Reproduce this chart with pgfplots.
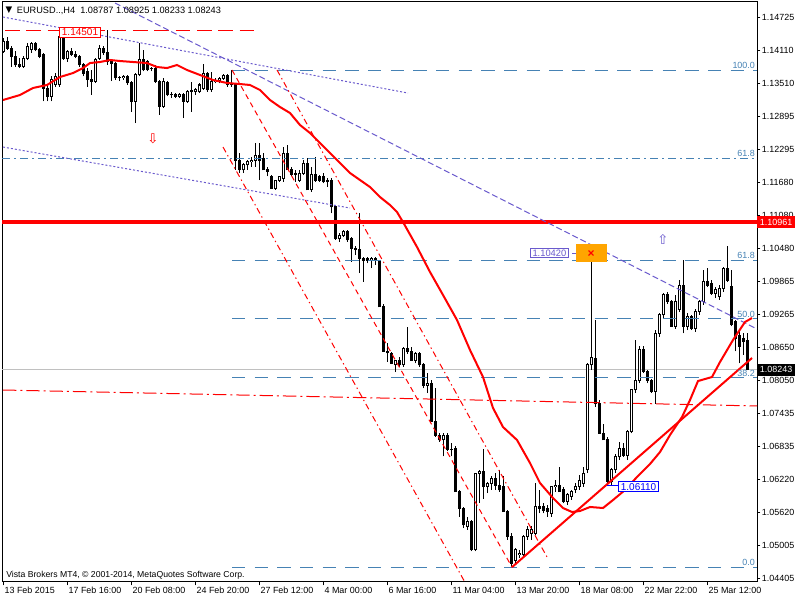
\documentclass[border=0pt]{standalone}
\usepackage{fontspec}
\setmainfont{Liberation Sans}
\newfontfamily\dejavu{DejaVu Sans}
\usepackage{pgfplots}
\usepackage{pgfplotstable}
\pgfplotsset{compat=1.18}
\definecolor{fibo}{HTML}{4682B4}
\definecolor{slate}{HTML}{6A5ACD}
\definecolor{silv}{HTML}{C0C0C0}
\definecolor{orng}{HTML}{FFA500}
\definecolor{lblue}{HTML}{0000FF}
\definecolor{mtred}{HTML}{FF0000}
\tikzset{fibtxt/.style={anchor=south east, text=fibo, inner sep=0.8pt, font=\fontsize{6.7}{8}\selectfont}}

% EURUSD H4 candles: bar index, open, high, low, close
\pgfplotstableread{
i o h l c
0 1.1410 1.1434 1.1407 1.1428
1 1.1428 1.1437 1.1413 1.1416
2 1.1416 1.1419 1.1382 1.1401
3 1.1401 1.1410 1.1382 1.1385
4 1.1385 1.1397 1.1379 1.1382
5 1.1382 1.1401 1.1380 1.1397
6 1.1397 1.1425 1.1394 1.1419
7 1.1413 1.1428 1.1407 1.1425
8 1.1425 1.1428 1.1410 1.1413
9 1.1413 1.1416 1.1397 1.1401
10 1.1404 1.1407 1.1318 1.1342
11 1.1342 1.1348 1.1318 1.1327
12 1.1327 1.1364 1.1318 1.1358
13 1.1348 1.1370 1.1345 1.1364
14 1.1348 1.1450 1.1345 1.1437
15 1.1440 1.1450 1.1394 1.1397
16 1.1397 1.1413 1.1391 1.1410
17 1.1410 1.1416 1.1401 1.1404
18 1.1404 1.1410 1.1397 1.1401
19 1.1401 1.1404 1.1382 1.1385
20 1.1385 1.1388 1.1364 1.1370
21 1.1373 1.1379 1.1345 1.1358
22 1.1358 1.1376 1.1330 1.1355
23 1.1355 1.1397 1.1352 1.1394
24 1.1397 1.1422 1.1394 1.1416
25 1.1416 1.1419 1.1404 1.1407
26 1.1407 1.1450 1.1385 1.1391
27 1.1391 1.1394 1.1355 1.1388
28 1.1388 1.1391 1.1358 1.1361
29 1.1361 1.1364 1.1355 1.1362
30 1.1361 1.1367 1.1358 1.1364
31 1.1364 1.1367 1.1348 1.1352
32 1.1352 1.1355 1.1299 1.1318
33 1.1318 1.1370 1.1278 1.1367
34 1.1367 1.1425 1.1364 1.1394
35 1.1394 1.1413 1.1373 1.1376
36 1.1391 1.1394 1.1373 1.1376
37 1.1379 1.1382 1.1373 1.1379
38 1.1379 1.1385 1.1352 1.1355
39 1.1355 1.1358 1.1293 1.1309
40 1.1309 1.1361 1.1306 1.1355
41 1.1352 1.1355 1.1327 1.1330
42 1.1330 1.1336 1.1324 1.1331
43 1.1330 1.1333 1.1324 1.1327
44 1.1327 1.1333 1.1324 1.1330
45 1.1330 1.1333 1.1287 1.1318
46 1.1318 1.1339 1.1315 1.1336
47 1.1336 1.1354 1.1299 1.1337
48 1.1336 1.1342 1.1330 1.1339
49 1.1336 1.1351 1.1333 1.1348
50 1.1342 1.1387 1.1339 1.1369
51 1.1369 1.1372 1.1336 1.1339
52 1.1339 1.1372 1.1336 1.1354
53 1.1354 1.1360 1.1351 1.1357
54 1.1357 1.1363 1.1351 1.1360
55 1.1360 1.1369 1.1357 1.1366
56 1.1366 1.1369 1.1345 1.1348
57 1.1351 1.1376 1.1345 1.1348
58 1.1348 1.1351 1.1192 1.1210
59 1.1210 1.1222 1.1186 1.1192
60 1.1192 1.1204 1.1186 1.1201
61 1.1201 1.1210 1.1192 1.1207
62 1.1207 1.1216 1.1198 1.1210
63 1.1210 1.1241 1.1198 1.1219
64 1.1219 1.1241 1.1173 1.1210
65 1.1213 1.1222 1.1192 1.1192
66 1.1192 1.1198 1.1180 1.1189
67 1.1180 1.1183 1.1158 1.1158
68 1.1158 1.1173 1.1155 1.1173
69 1.1173 1.1180 1.1170 1.1180
70 1.1176 1.1234 1.1170 1.1222
71 1.1222 1.1237 1.1192 1.1192
72 1.1192 1.1198 1.1180 1.1183
73 1.1186 1.1192 1.1170 1.1183
74 1.1173 1.1192 1.1170 1.1186
75 1.1186 1.1210 1.1183 1.1204
76 1.1204 1.1213 1.1155 1.1155
77 1.1155 1.1198 1.1152 1.1183
78 1.1183 1.1216 1.1170 1.1173
79 1.1180 1.1183 1.1170 1.1173
80 1.1180 1.1186 1.1167 1.1170
81 1.1173 1.1176 1.1161 1.1170
82 1.1173 1.1176 1.1112 1.1124
83 1.1124 1.1127 1.1063 1.1066
84 1.1066 1.1075 1.1060 1.1072
85 1.1072 1.1081 1.1069 1.1078
86 1.1078 1.1081 1.1060 1.1063
87 1.1066 1.1069 1.1023 1.1048
88 1.1048 1.1051 1.1035 1.1045
89 1.1045 1.1112 1.1002 1.1029
90 1.1029 1.1032 1.0986 1.1026
91 1.1029 1.1032 1.1020 1.1026
92 1.1026 1.1032 1.1011 1.1029
93 1.1029 1.1032 1.1017 1.1026
94 1.1023 1.1026 1.0940 1.0940
95 1.0940 1.0946 1.0858 1.0858
96 1.0858 1.0873 1.0839 1.0855
97 1.0854 1.0857 1.0836 1.0836
98 1.0833 1.0842 1.0820 1.0842
99 1.0842 1.0848 1.0830 1.0833
100 1.0833 1.0866 1.0830 1.0863
101 1.0863 1.0903 1.0854 1.0857
102 1.0857 1.0866 1.0842 1.0842
103 1.0842 1.0857 1.0836 1.0854
104 1.0854 1.0857 1.0830 1.0833
105 1.0833 1.0836 1.0790 1.0796
106 1.0796 1.0818 1.0781 1.0799
107 1.0799 1.0805 1.0729 1.0729
108 1.0729 1.0790 1.0701 1.0704
109 1.0704 1.0707 1.0692 1.0695
110 1.0695 1.0707 1.0665 1.0704
111 1.0704 1.0707 1.0674 1.0677
112 1.0677 1.0689 1.0665 1.0678
113 1.0680 1.0683 1.0600 1.0600
114 1.0600 1.0603 1.0554 1.0569
115 1.0569 1.0572 1.0533 1.0539
116 1.0536 1.0554 1.0530 1.0545
117 1.0545 1.0548 1.0490 1.0493
118 1.0493 1.0634 1.0490 1.0634
119 1.0634 1.0640 1.0579 1.0637
120 1.0637 1.0679 1.0587 1.0609
121 1.0609 1.0618 1.0597 1.0615
122 1.0615 1.0628 1.0603 1.0624
123 1.0624 1.0634 1.0603 1.0612
124 1.0612 1.0640 1.0600 1.0603
125 1.0609 1.0628 1.0563 1.0563
126 1.0563 1.0566 1.0511 1.0517
127 1.0517 1.0523 1.0462 1.0468
128 1.0474 1.0496 1.0468 1.0493
129 1.0484 1.0493 1.0477 1.0487
130 1.0484 1.0520 1.0477 1.0517
131 1.0517 1.0536 1.0511 1.0530
132 1.0523 1.0536 1.0511 1.0530
133 1.0523 1.0615 1.0520 1.0572
134 1.0572 1.0603 1.0560 1.0569
135 1.0572 1.0579 1.0560 1.0566
136 1.0569 1.0575 1.0554 1.0563
137 1.0560 1.0609 1.0554 1.0609
138 1.0609 1.0621 1.0600 1.0612
139 1.0612 1.0646 1.0600 1.0600
140 1.0603 1.0609 1.0579 1.0582
141 1.0582 1.0597 1.0575 1.0594
142 1.0591 1.0603 1.0585 1.0600
143 1.0603 1.0615 1.0597 1.0609
144 1.0609 1.0631 1.0603 1.0621
145 1.0615 1.0646 1.0609 1.0634
146 1.0640 1.0836 1.0634 1.0833
147 1.0833 1.1042 1.0824 1.0846
148 1.0845 1.0916 1.0756 1.0762
149 1.0762 1.0768 1.0707 1.0707
150 1.0707 1.0725 1.0695 1.0695
151 1.0695 1.0701 1.0611 1.0618
152 1.0618 1.0643 1.0612 1.0640
153 1.0640 1.0670 1.0634 1.0664
154 1.0664 1.0692 1.0658 1.0680
155 1.0680 1.0689 1.0664 1.0667
156 1.0667 1.0713 1.0658 1.0710
157 1.0710 1.0787 1.0707 1.0787
158 1.0787 1.0879 1.0781 1.0805
159 1.0805 1.0867 1.0799 1.0862
160 1.0862 1.0867 1.0818 1.0821
161 1.0821 1.0824 1.0799 1.0805
162 1.0805 1.0808 1.0781 1.0784
163 1.0784 1.0897 1.0762 1.0891
164 1.0891 1.0928 1.0885 1.0925
165 1.0925 1.0965 1.0919 1.0962
166 1.0962 1.0968 1.0946 1.0950
167 1.0950 1.0953 1.0904 1.0904
168 1.0904 1.0962 1.0900 1.0950
169 1.0935 1.0989 1.0930 1.0980
170 1.0980 1.1026 1.0891 1.0904
171 1.0904 1.0928 1.0897 1.0922
172 1.0922 1.0925 1.0897 1.0900
173 1.0900 1.0935 1.0894 1.0931
174 1.0931 1.0953 1.0925 1.0950
175 1.0950 1.1008 1.0944 1.0986
176 1.0986 1.1011 1.0977 1.0980
177 1.0983 1.0989 1.0962 1.0965
178 1.0965 1.0977 1.0956 1.0971
179 1.0959 1.0980 1.0953 1.0974
180 1.0974 1.1014 1.0968 1.1011
181 1.1011 1.1051 1.0986 1.0989
182 1.0977 1.1008 1.0904 1.0907
183 1.0913 1.0916 1.0858 1.0882
184 1.0888 1.0900 1.0836 1.0867
185 1.0882 1.0891 1.0852 1.0876
186 1.08787 1.08925 1.08233 1.08243
}\candles

\begin{document}
\begin{tikzpicture}
\useasboundingbox (0,0) rectangle (600pt,450pt);
\begin{axis}[
  at={(1.5pt,13.5pt)}, anchor=south west,
  scale only axis, width=566.25pt, height=435pt,
  xmin=-0.25, xmax=188.5, ymin=1.04337, ymax=1.15007,
  clip mode=individual,
  axis line style={black, line width=0.75pt},
  xtick={0,16,...,176},
  xticklabels={13 Feb 2015, 17 Feb 16:00, 20 Feb 08:00, 24 Feb 20:00, 27 Feb 12:00, 4 Mar 00:00, 6 Mar 16:00, 11 Mar 04:00, 13 Mar 20:00, 18 Mar 08:00, 22 Mar 22:00, 25 Mar 12:00},
  ytick={1.04405,1.05005,1.05620,1.06220,1.06835,1.07435,1.08050,1.08650,1.09265,1.09865,1.10480,1.11080,1.11680,1.12295,1.12895,1.13510,1.14110,1.14725},
  yticklabels={1.04405,1.05005,1.05620,1.06220,1.06835,1.07435,1.08050,1.08650,1.09265,1.09865,1.10480,1.11080,1.11680,1.12295,1.12895,1.13510,1.14110,1.14725},
  xtick pos=bottom, ytick pos=right, yticklabel pos=right,
  tick align=outside, major tick length=2.5pt,
  tick style={black, line width=0.75pt},
  ticklabel style={font=\fontsize{6.7}{8}\selectfont, inner sep=1pt},
  xticklabel style={anchor=north west},
  yticklabel style={anchor=west},
]
% current price line
\addplot[silv, line width=0.75pt, forget plot] coordinates {(-0.25,1.08243) (188.5,1.08243)};

% candles: wicks, bodies, white insides of rising bars
\addplot[black, draw=none, mark=none, forget plot,
  error bars/.cd, y dir=plus, y explicit, error mark=none,
  error bar style={line width=0.75pt, draw=black}]
  table[x=i, y=l, y error plus expr={\thisrow{h}-\thisrow{l}}] {\candles};
\addplot[black, draw=none, mark=none, forget plot,
  error bars/.cd, y dir=plus, y explicit, error mark=none,
  error bar style={line width=2.25pt, draw=black}]
  table[x=i, y expr={min(\thisrow{o},\thisrow{c})-0.000092}, y error plus expr={abs(\thisrow{c}-\thisrow{o})+0.000184}] {\candles};
\addplot[white, draw=none, mark=none, forget plot,
  error bars/.cd, y dir=plus, y explicit, error mark=none,
  error bar style={line width=0.75pt, draw=white}]
  table[x=i, y expr={\thisrow{o}+0.000092}, y error plus expr={max(0,\thisrow{c}-\thisrow{o}-0.000184)}] {\candles};

% fibonacci levels
\addplot[fibo, line width=0.75pt, dash pattern=on 10pt off 7pt] coordinates {(57.25,1.1375) (188.5,1.1375)};
\addplot[fibo, line width=0.75pt, dash pattern=on 6pt off 3pt on 1.5pt off 3pt] coordinates {(-0.25,1.12137) (188.5,1.12137)};
\addplot[fibo, line width=0.75pt, dash pattern=on 10pt off 7pt] coordinates {(57.25,1.1026) (188.5,1.1026)};
\addplot[fibo, line width=0.75pt, dash pattern=on 10pt off 7pt] coordinates {(57.25,1.0918) (188.5,1.0918)};
\addplot[fibo, line width=0.75pt, dash pattern=on 10pt off 7pt] coordinates {(57.25,1.0810) (188.5,1.0810)};
\addplot[fibo, line width=0.75pt, dash pattern=on 10pt off 7pt] coordinates {(57.25,1.0461) (188.5,1.0461)};

% horizontal lines
\addplot[mtred, line width=2.6pt] coordinates {(-0.25,1.10961) (188.5,1.10961)};
\addplot[mtred, line width=1.2pt, dash pattern=on 11pt off 5pt] coordinates {(0.5,1.1448) (64.25,1.1448)};
\addplot[mtred, line width=0.75pt, dash pattern=on 10pt off 3pt on 1.5pt off 3pt] coordinates {(0,1.07869) (188.5,1.07575)};

% trend lines
\addplot[slate, line width=0.75pt, dash pattern=on 4.5pt off 2.25pt] coordinates {(28,1.14988) (188.5,1.08991)};
\addplot[slate, line width=0.75pt, dash pattern=on 1.5pt off 1.5pt] coordinates {(0,1.14731) (101.25,1.13332)};
\addplot[slate, line width=0.75pt, dash pattern=on 1.5pt off 1.5pt] coordinates {(0,1.12339) (86.75,1.11217)};

% falling channel
\addplot[mtred, line width=0.75pt, dash pattern=on 4pt off 3pt] coordinates {(57.25,1.13756) (127.25,1.0461)};
\addplot[mtred, line width=0.75pt, dash pattern=on 4.5pt off 2.5pt on 1pt off 2.5pt] coordinates {(68.5,1.13756) (136,1.04797)};
\addplot[mtred, line width=0.75pt, dash pattern=on 4.5pt off 2.5pt on 1pt off 2.5pt] coordinates {(55,1.12339) (118,1.0400)};

% moving average
\addplot[mtred, line width=1.5pt] coordinates {
(0,1.13204) (4.25,1.13296) (7.5,1.13425) (11,1.13480) (14.25,1.13627) (17.5,1.13700)
(20,1.13792) (21.75,1.13884) (24.25,1.13903) (26.75,1.13940) (29.25,1.13921) (32.5,1.13903)
(36,1.13884) (38.5,1.13811) (41,1.13792) (43.5,1.13848) (46,1.13756) (49.25,1.13664)
(52.5,1.13572) (56,1.13517) (59.25,1.13498) (61.75,1.13480) (64.25,1.13388) (66.75,1.13204)
(69.25,1.13075) (71.75,1.12965) (74.25,1.12744) (76.75,1.12597) (79.25,1.12413) (81.75,1.12229)
(84.25,1.12045) (86.75,1.11861) (89.25,1.11732) (91.75,1.11603) (94.25,1.11419) (96.75,1.11272)
(98.5,1.11143) (100,1.10959) (103.5,1.10500) (106.75,1.10040) (110,1.09617) (113.5,1.09157)
(116.75,1.08605) (120,1.08108) (122.5,1.07538) (125,1.07188) (128.5,1.06949) (131.75,1.06526)
(134.25,1.06158) (137.5,1.05882) (140,1.05698) (142.25,1.05625) (144.25,1.05643) (146.75,1.05717)
(150,1.05698) (152.5,1.05845) (155.5,1.06029) (158.5,1.06269) (161.75,1.06508) (164.25,1.06728)
(166.75,1.07041) (169.75,1.07372) (171.75,1.07685) (173.75,1.08034) (177.25,1.08108) (179.25,1.08384)
(182.5,1.08789) (185.5,1.09120) (187.25,1.09193)};
% rising trend line from the low
\addplot[mtred, line width=1.5pt] coordinates {(127.25,1.0461) (187.25,1.08458)};

% price labels
\addplot[slate, line width=0.75pt] coordinates {(142.25,1.10389) (143.5,1.10389)};
\addplot[lblue, line width=0.75pt] coordinates {(151,1.0611) (153.75,1.0611)};
\node[fill=orng, minimum width=23.25pt, minimum height=13.5pt, inner sep=0pt] at (axis cs:147.1,1.10389) {};
\node[text=mtred, font=\bfseries\fontsize{9}{9}\selectfont, inner sep=0pt] at (axis cs:147,1.1038) {×};
\node[draw=slate, fill=white, text=slate, line width=0.75pt, inner xsep=1.5pt, inner ysep=1pt, font=\fontsize{7}{8}\selectfont] at (axis cs:136.6,1.10389) {1.10420};
\node[draw=lblue, fill=white, text=lblue, line width=0.75pt, inner xsep=1.5pt, inner ysep=1pt, font=\fontsize{7.5}{8}\selectfont] at (axis cs:158.9,1.0609) {1.06110};
\node[draw=mtred, fill=white, text=mtred, line width=0.75pt, inner xsep=1.5pt, inner ysep=1pt, font=\fontsize{7.5}{8}\selectfont] at (axis cs:19.25,1.1445) {1.14501};

% fibonacci level texts
\node[fibtxt] at (axis cs:188.3,1.1375) {100.0};
\node[fibtxt] at (axis cs:188.3,1.12137) {61.8};
\node[fibtxt] at (axis cs:188.3,1.1026) {61.8};
\node[fibtxt] at (axis cs:188.3,1.0918) {50.0};
\node[fibtxt] at (axis cs:188.3,1.0810) {38.2};
\node[fibtxt] at (axis cs:188.3,1.0461) {0.0};

% arrows
\node[text=mtred, font=\dejavu\fontsize{10}{10}\selectfont, inner sep=0pt] at (axis cs:37.5,1.12486) {⇩};
\node[text=slate, font=\dejavu\fontsize{10}{10}\selectfont, inner sep=0pt] at (axis cs:165,1.10647) {⇧};

% right axis price boxes
\node[anchor=west, fill=mtred, text=white, inner xsep=2pt, inner ysep=1pt, minimum height=9pt, font=\fontsize{6.7}{8}\selectfont] at (axis cs:188.5,1.10961) {1.10961};
\node[anchor=west, fill=black, text=white, inner xsep=2pt, inner ysep=1pt, minimum height=9pt, font=\fontsize{6.7}{8}\selectfont] at (axis cs:188.5,1.08243) {1.08243};

% header and footer
\node[anchor=north west, inner sep=0pt, font=\dejavu\fontsize{6.5}{7}\selectfont] at (rel axis cs:0,1) [xshift=2.5pt, yshift=-3.5pt] {▼};
\node[anchor=north west, inner sep=0pt, font=\fontsize{6.9}{8}\selectfont] at (rel axis cs:0,1) [xshift=11pt, yshift=-3.5pt] {EURUSD..,H4\ \ 1.08787 1.08925 1.08233 1.08243};
\node[anchor=south west, inner sep=0pt, font=\fontsize{6.5}{8}\selectfont] at (rel axis cs:0,0) [xshift=3pt, yshift=2pt] {Vista Brokers MT4, © 2001-2014, MetaQuotes Software Corp.};
\end{axis}
\end{tikzpicture}
\end{document}
